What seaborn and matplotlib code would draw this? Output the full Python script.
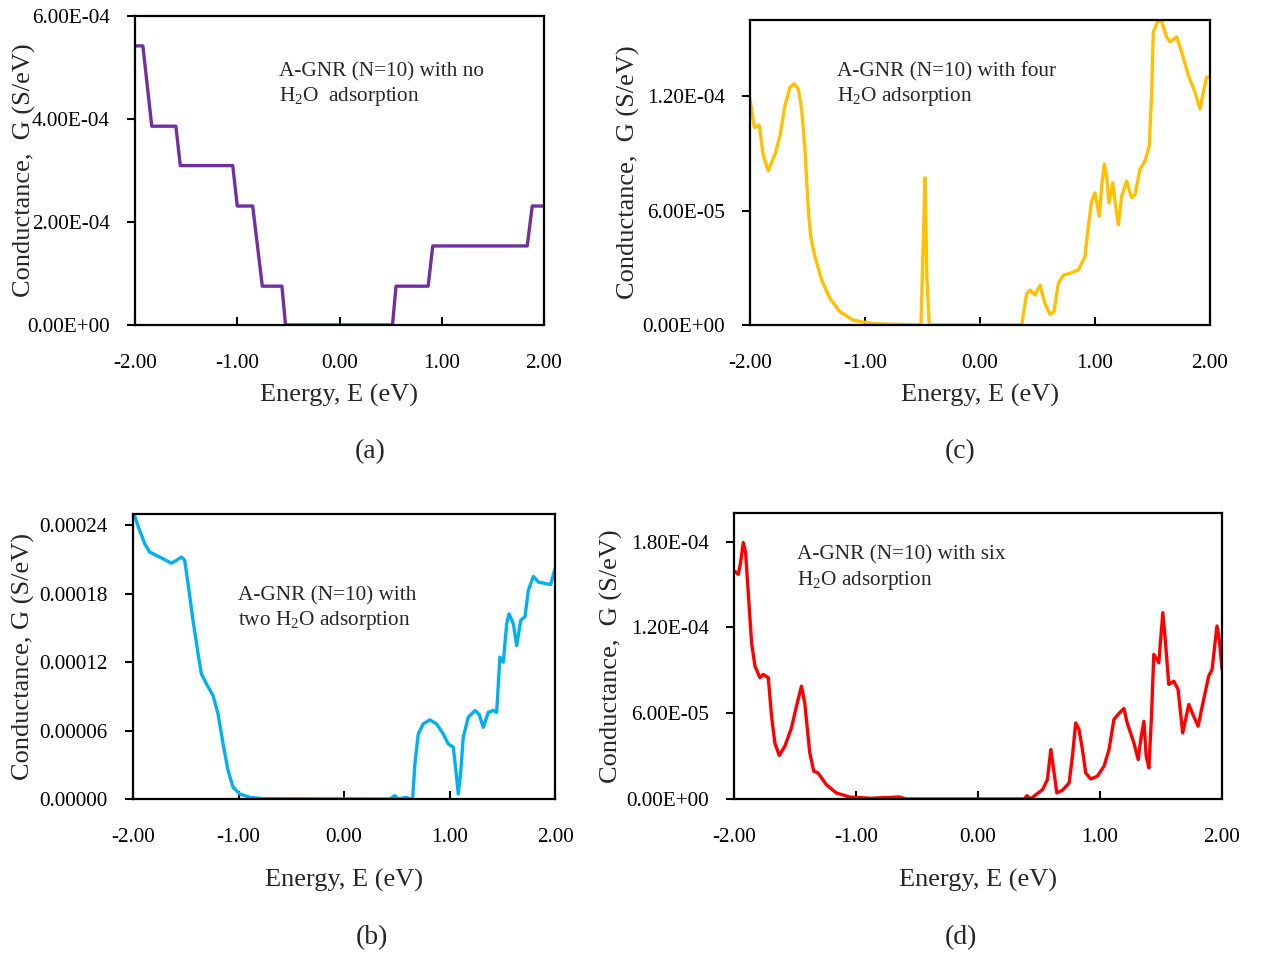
import numpy as np
import pandas as pd
import matplotlib
matplotlib.use("Agg")
import matplotlib.pyplot as plt
import seaborn as sns

# ---------------- data ----------------
# (a) no H2O adsorption
ea = [-2.0, -1.923, -1.836, -1.600, -1.557, -1.044, -1.000, -0.849, -0.755, -0.563,
      -0.528, 0.518, 0.553, 0.867, 0.912, 1.836, 1.885, 2.0]
ga = [5.42, 5.42, 3.86, 3.86, 3.095, 3.095, 2.31, 2.31, 0.754, 0.754,
      0.0, 0.0, 0.754, 0.754, 1.535, 1.535, 2.31, 2.31]  # x1e-4

# (c) four H2O adsorption
ec = [-2.0, -1.965, -1.957, -1.919, -1.884, -1.841, -1.783, -1.739, -1.696, -1.652,
      -1.617, -1.580, -1.551, -1.522, -1.493, -1.472, -1.435, -1.377, -1.304, -1.217,
      -1.101, -0.928, -0.536, -0.513, -0.495, -0.478, -0.462, -0.441, -0.420, 0.362,
      0.406, 0.435, 0.478, 0.522, 0.565, 0.609, 0.643, 0.681, 0.725, 0.783,
      0.855, 0.913, 0.942, 0.971, 1.000, 1.038, 1.058, 1.081, 1.101, 1.122,
      1.154, 1.180, 1.203, 1.232, 1.275, 1.319, 1.348, 1.391, 1.435, 1.472,
      1.493, 1.507, 1.551, 1.580, 1.623, 1.652, 1.710, 1.754, 1.812, 1.870,
      1.913, 1.942, 1.971, 2.0]
gc = [1.186, 1.045, 1.036, 1.049, 0.887, 0.808, 0.896, 0.992, 1.151, 1.248,
      1.265, 1.239, 1.133, 0.922, 0.605, 0.4645, 0.359, 0.236, 0.139, 0.069,
      0.025, 0.007, 0.0, 0.007, 0.40, 0.7725, 0.25, 0.0, 0.0, 0.0,
      0.165, 0.183, 0.157, 0.209, 0.113, 0.056, 0.069, 0.218, 0.262, 0.271,
      0.289, 0.359, 0.517, 0.649, 0.693, 0.570, 0.728, 0.843, 0.781, 0.640,
      0.746, 0.623, 0.526, 0.676, 0.755, 0.667, 0.684, 0.816, 0.860, 0.940,
      1.221, 1.538, 1.599, 1.591, 1.511, 1.485, 1.511, 1.432, 1.309, 1.221,
      1.133, 1.221, 1.300, 1.300]  # x1e-4

# (b) two H2O adsorption
eb = [-2.0, -1.937, -1.889, -1.842, -1.747, -1.636, -1.589, -1.541, -1.510, -1.478,
      -1.431, -1.383, -1.352, -1.304, -1.241, -1.194, -1.146, -1.099, -1.051, -0.988,
      -0.893, -0.767, 0.435, 0.482, 0.514, 0.593, 0.625, 0.650, 0.672, 0.704,
      0.751, 0.814, 0.877, 0.941, 0.988, 1.036, 1.061, 1.083, 1.105, 1.130,
      1.178, 1.241, 1.282, 1.320, 1.368, 1.415, 1.447, 1.478, 1.510, 1.542,
      1.564, 1.605, 1.637, 1.675, 1.716, 1.747, 1.795, 1.842, 1.921, 1.959, 2.0]
gb = [2.52, 2.356, 2.239, 2.166, 2.122, 2.069, 2.093, 2.122, 2.093, 1.888,
      1.566, 1.273, 1.098, 1.010, 0.907, 0.746, 0.483, 0.249, 0.102, 0.044,
      0.015, 0.003, 0.0, 0.03, 0.0, 0.015, 0.0, 0.0, 0.307, 0.571,
      0.659, 0.694, 0.659, 0.571, 0.483, 0.454, 0.249, 0.044, 0.220, 0.541,
      0.717, 0.776, 0.741, 0.629, 0.761, 0.776, 0.761, 1.244, 1.200, 1.537,
      1.624, 1.537, 1.346, 1.566, 1.601, 1.829, 1.952, 1.903, 1.888, 1.882, 2.020]  # x1e-4

# (d) six H2O adsorption
ed = [-2.0, -1.965, -1.946, -1.924, -1.905, -1.883, -1.856, -1.828, -1.787, -1.760,
      -1.719, -1.692, -1.665, -1.629, -1.583, -1.529, -1.488, -1.447, -1.420, -1.379,
      -1.346, -1.311, -1.243, -1.161, -1.052, -0.888, -0.643, -0.590, 0.379, 0.401,
      0.433, 0.474, 0.529, 0.569, 0.597, 0.624, 0.646, 0.692, 0.747, 0.774,
      0.801, 0.828, 0.856, 0.883, 0.924, 0.978, 1.033, 1.074, 1.114, 1.155,
      1.196, 1.223, 1.278, 1.313, 1.338, 1.360, 1.379, 1.401, 1.422, 1.441,
      1.482, 1.515, 1.537, 1.564, 1.605, 1.640, 1.678, 1.728, 1.768, 1.804,
      1.850, 1.891, 1.919, 1.940, 1.959, 1.978, 2.0]
gd = [1.595, 1.571, 1.653, 1.793, 1.723, 1.443, 1.093, 0.929, 0.848, 0.871,
      0.848, 0.579, 0.392, 0.304, 0.369, 0.497, 0.649, 0.789, 0.672, 0.322,
      0.194, 0.182, 0.100, 0.042, 0.014, 0.005, 0.014, 0.0, 0.0, 0.023,
      0.0, 0.030, 0.065, 0.135, 0.346, 0.182, 0.042, 0.061, 0.112, 0.299,
      0.532, 0.486, 0.346, 0.182, 0.140, 0.159, 0.229, 0.346, 0.556, 0.598,
      0.633, 0.532, 0.392, 0.276, 0.439, 0.544, 0.299, 0.217, 0.579, 1.011,
      0.953, 1.303, 1.093, 0.801, 0.824, 0.766, 0.462, 0.661, 0.579, 0.509,
      0.696, 0.859, 0.906, 1.069, 1.210, 1.116, 0.906]  # x1e-4

xticks = [-2.0, -1.0, 0.0, 1.0, 2.0]

# ---------------- style ----------------
sns.set_style("ticks")
plt.rcParams['font.family'] = ['Liberation Serif', 'DejaVu Serif']
plt.rcParams['mathtext.fontset'] = 'custom'
plt.rcParams['mathtext.rm'] = 'Liberation Serif'
plt.rcParams['mathtext.it'] = 'Liberation Serif:italic'
plt.rcParams['axes.unicode_minus'] = False

W, H = 1262, 956
fig = plt.figure(figsize=(W / 100, H / 100), dpi=100)


def make_axes(l, r, t, b):
    return fig.add_axes([l / W, 1 - b / H, (r - l) / W, (b - t) / H])


panels = [
    (ea, ga, '#7030A0', (135, 544, 16, 325), [0, 2e-4, 4e-4, 6e-4], 6e-4, '{:.2E}', 24, 395,
     'Conductance,  G (S/eV)',
     [(279, 72, 'A-GNR (N=10) with no'), (279, 96, 'H$_2$O  adsorption')], ('(a)', 370, 452)),
    (ec, gc, '#FFC000', (750, 1210, 20, 325), [0, 6e-5, 1.2e-4], 1.6e-4, '{:.2E}', 628, 395,
     'Conductance,  G (S/eV)',
     [(837, 72, 'A-GNR (N=10) with four'), (837, 96, 'H$_2$O adsorption')], ('(c)', 960, 452)),
    (eb, gb, '#00B0F0', (133, 555, 514, 799), [0, 6e-5, 1.2e-4, 1.8e-4, 2.4e-4], 2.5e-4, '{:.5f}', 23, 880,
     'Conductance, G (S/eV)',
     [(238, 596, 'A-GNR (N=10) with'), (238, 621, 'two H$_2$O adsorption')], ('(b)', 372, 938)),
    (ed, gd, '#FF0000', (734, 1222, 513, 799), [0, 6e-5, 1.2e-4, 1.8e-4], 2.0e-4, '{:.2E}', 611, 880,
     'Conductance,  G (S/eV)',
     [(797, 555, 'A-GNR (N=10) with six'), (797, 580, 'H$_2$O adsorption')], ('(d)', 961, 938)),
]

for xs, ys, color, (l, r, t, b), yt, ytop, fmt, ylx, xly, ylab, lines, tag in panels:
    ax = make_axes(l, r, t, b)
    df = pd.DataFrame({'E': xs, 'G': np.array(ys) * 1e-4})
    sns.lineplot(data=df, x='E', y='G', ax=ax, color=color, linewidth=2.4,
                 estimator=None, sort=False)
    for ln in ax.lines:
        ln.set_solid_joinstyle('round')
        ln.set_solid_capstyle('round')
    ax.set_xlim(-2, 2)
    ax.set_ylim(0, ytop)
    ax.set_xticks(xticks)
    ax.set_xticklabels(['{:.2f}'.format(v) for v in xticks])
    ax.set_yticks(yt)
    ax.set_yticklabels([fmt.format(v) for v in yt])
    for sp in ax.spines.values():
        sp.set_visible(True)
        sp.set_linewidth(1.6)
        sp.set_color('black')
    ax.tick_params(axis='x', direction='in', length=6, width=1.5, pad=21,
                   labelsize=15.3, colors='black')
    ax.tick_params(axis='y', direction='out', length=6, width=1.5, pad=12,
                   labelsize=15.3, colors='black')
    ax.set_xlabel('Energy, E (eV)', fontsize=19, va='center')
    ax.set_ylabel(ylab, fontsize=19, va='center')
    ax.xaxis.set_label_coords(0.5, -(xly - b) / (b - t))
    ax.yaxis.set_label_coords(-(l - ylx) / (r - l), 0.5)
    ax.grid(False)
    ax.set_facecolor('white')
    for (tx, ty, s) in lines:
        fig.text(tx / W, 1 - ty / H, s, ha='left', va='center', fontsize=15.3)
    fig.text(tag[1] / W, 1 - tag[2] / H, tag[0], ha='center', va='center', fontsize=20)

fig.savefig('out.png', dpi=100, facecolor='white')
